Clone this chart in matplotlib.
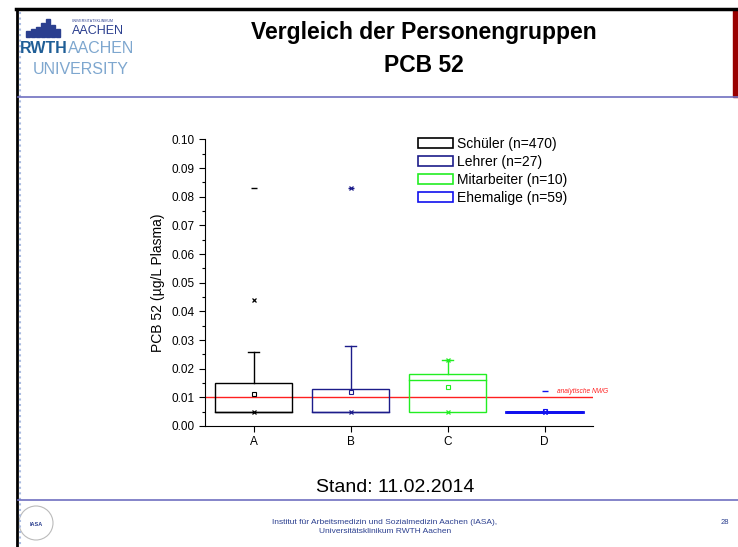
import matplotlib
matplotlib.use("Agg")
import matplotlib.pyplot as plt
from matplotlib.patches import Rectangle, Patch, Ellipse
from matplotlib.lines import Line2D

plt.rcParams['font.family'] = ['Liberation Sans', 'DejaVu Sans']

# data (µg/L Plasma)
categories = ['A', 'B', 'C', 'D']
labels = ['Schüler (n=470)', 'Lehrer (n=27)', 'Mitarbeiter (n=10)', 'Ehemalige (n=59)']
colors = ['black', '#1c1c8a', '#22ee22', '#1010ee']
q1 = [0.005, 0.005, 0.005, 0.005]
q3 = [0.015, 0.013, 0.018, 0.005]
median = [0.005, 0.005, 0.016, 0.005]
whisker_hi = [0.026, 0.028, 0.023, 0.005]
means = [0.0113, 0.012, 0.0135, 0.0051]
p1 = [0.005, 0.005, 0.005, 0.005]
p99 = [0.044, 0.083, 0.023, 0.005]
maxima = [0.083, 0.083, 0.023, 0.0122]
nwg = 0.01

fig = plt.figure(figsize=(7.38, 5.47), dpi=100)
ax = fig.add_axes([205 / 738, 1 - 426 / 547, 388 / 738, 286.5 / 547])

w = 0.8
for i, c in enumerate(colors):
    x = i + 1
    lw = 1.0 if i < 3 else 2.0
    ax.add_patch(Rectangle((x - w / 2, q1[i]), w, q3[i] - q1[i], fill=False,
                           edgecolor=c, lw=lw, zorder=3))
    ax.plot([x - w / 2, x + w / 2], [median[i]] * 2, color=c, lw=lw, zorder=3)
    if whisker_hi[i] > q3[i]:
        ax.plot([x, x], [q3[i], whisker_hi[i]], color=c, lw=1.0, zorder=3)
        ax.plot([x - 0.06, x + 0.06], [whisker_hi[i]] * 2, color=c, lw=1.0, zorder=3)
    ax.plot(x, means[i], marker='s', ms=3, mfc='white', mec=c, mew=0.8, zorder=4)
    ax.plot([x, x], [p1[i], p99[i]], ls='none', marker='x', ms=3.5, color=c, mew=0.9, zorder=4)
    ax.plot(x, maxima[i], marker='_', ms=5, color=c, mew=1.0, zorder=4)

ax.axhline(nwg, color='#ff2020', lw=1.0, zorder=2)
ax.text(4.13, 0.0122, 'analytische NWG', color='#ff2020', fontsize=4.8,
        style='italic', va='center', ha='left')

ax.set_xlim(0.5, 4.5)
ax.set_ylim(0, 0.10)
ax.set_xticks(range(1, 5))
ax.set_xticklabels(categories)
ax.set_yticks([i / 100 for i in range(11)])
ax.set_yticklabels([f'{i / 100:.2f}' for i in range(11)])
ax.set_yticks([i / 200 for i in range(1, 20, 2)], minor=True)
ax.tick_params(axis='both', labelsize=8.5, direction='out', length=4, width=0.8)
ax.tick_params(axis='y', which='minor', direction='out', length=2, width=0.8)
for s in ['top', 'right']:
    ax.spines[s].set_visible(False)
for s in ['left', 'bottom']:
    ax.spines[s].set_linewidth(0.8)
ax.set_ylabel('PCB 52 (µg/L Plasma)', fontsize=10, labelpad=5)

handles = [Patch(facecolor='none', edgecolor=c, lw=1.2) for c in colors]
fig.legend(handles, labels, loc='upper left', bbox_to_anchor=(418 / 738, 1 - 137 / 547),
           frameon=False, fontsize=10, handlelength=2.5, handleheight=0.8,
           labelspacing=0.28, borderpad=0, borderaxespad=0, handletextpad=0.3)

# slide frame
def fline(x0, x1, y0, y1, **kw):
    fig.add_artist(Line2D([x0 / 738, x1 / 738], [1 - y0 / 547, 1 - y1 / 547],
                          transform=fig.transFigure, **kw))

fline(16, 738, 9, 9, color='black', lw=2.5)
fline(17, 17, 9, 547, color='black', lw=2)
fline(20, 20, 12, 547, color='#aabbe0', lw=1.5, ls=':')
fline(18, 738, 97, 97, color='#6f6fc0', lw=1.2)
fline(18, 738, 500, 500, color='#6f6fc0', lw=1.2)
fig.add_artist(Rectangle((733 / 738, 1 - 97 / 547), 5 / 738, 88 / 547,
                         transform=fig.transFigure, color='#990000'))

# header logo (simplified)
for bx, bh in [(26, 6), (31, 8), (36, 10), (41, 14), (46, 18), (51, 12), (56, 8)]:
    fig.add_artist(Rectangle((bx / 738, 1 - 37 / 547), 4 / 738, bh / 547,
                             transform=fig.transFigure, color='#2b3f8f'))
fig.text(72 / 738, 1 - 22 / 547, 'UNIVERSITÄTSKLINIKUM', fontsize=2.5, color='#2b3f8f')
fig.text(72 / 738, 1 - 34 / 547, 'AACHEN', fontsize=9, color='#2b3f8f')
renderer = fig.canvas.get_renderer()
t_rwth = fig.text(20 / 738, 1 - 56 / 547, 'RWTH', fontsize=11.5, color='#1f5e96',
                  weight='bold', va='bottom')
bb = t_rwth.get_window_extent(renderer)
fig.text(bb.x1 / 738 + 0.5 / 738, 1 - 56 / 547, 'AACHEN', fontsize=11.5,
         color='#7ea7cf', va='bottom')
fig.text(33 / 738, 1 - 77 / 547, 'UNIVERSITY', fontsize=11.5, color='#7ea7cf', va='bottom')

fig.text(424 / 738, 1 - 32 / 547, 'Vergleich der Personengruppen', fontsize=16.5,
         weight='bold', ha='center', va='center')
fig.text(424 / 738, 1 - 66 / 547, 'PCB 52', fontsize=16.5, weight='bold',
         ha='center', va='center')

# footer
fig.text(395 / 738, 1 - 487 / 547, 'Stand: 11.02.2014', fontsize=14,
         ha='center', va='center')
fig.text(385 / 738, 1 - 527 / 547,
         'Institut für Arbeitsmedizin und Sozialmedizin Aachen (IASA),\nUniversitätsklinikum RWTH Aachen',
         fontsize=6, color='#2b3f8f', ha='center', va='center', linespacing=1.25)
fig.text(725 / 738, 1 - 523 / 547, '28', fontsize=5.5, color='#2b3f8f', ha='center', va='center')
fig.add_artist(Ellipse((36 / 738, 1 - 523 / 547), 34 / 738, 34 / 547,
                       transform=fig.transFigure, fill=False, ec='#bbbbbb', lw=0.8))
fig.text(36 / 738, 1 - 524 / 547, 'IASA', fontsize=4, color='#2b3f8f',
         ha='center', va='center', weight='bold')

fig.savefig('out.png', dpi=100)
